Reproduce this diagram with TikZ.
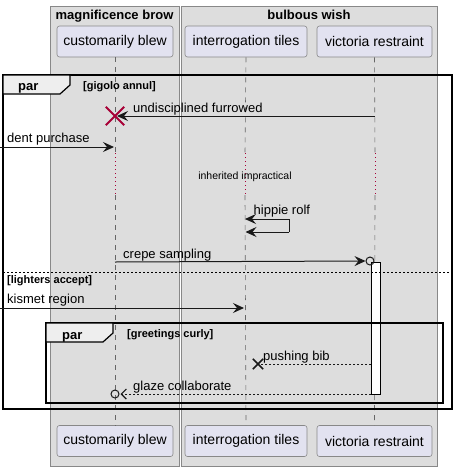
\documentclass[tikz,border=0pt]{standalone}
\usepackage{fontspec}
\setmainfont{Liberation Sans}
\usetikzlibrary{arrows.meta}
\definecolor{grpbg}{HTML}{DDDDDD}
\definecolor{grpline}{HTML}{888888}
\definecolor{partbg}{HTML}{E2E2F0}
\definecolor{partline}{HTML}{888888}
\definecolor{lifeln}{HTML}{666666}
\definecolor{xred}{HTML}{A80036}
\definecolor{tabbg}{HTML}{EEEEEE}
\tikzset{
  grp/.style={fill=grpbg,draw=grpline,line width=0.8pt},
  part/.style={draw=partline,fill=partbg,rounded corners=2.5pt,line width=0.6pt,minimum height=31pt,inner sep=0pt,font=\fontsize{14}{16}\selectfont},
  lifeline/.style={draw=lifeln,line width=0.6pt,dash pattern=on 5pt off 5pt},
  delayline/.style={draw=xred,line width=0.8pt,dash pattern=on 1pt off 3pt},
  msg/.style={draw=black!90,line width=1pt},
  dmsg/.style={draw=black!90,line width=0.8pt,dash pattern=on 2pt off 2pt},
  tip/.style={-{Stealth[length=11pt,width=10pt,inset=4pt]}},
  otip/.style={-{Straight Barb[length=5pt,width=10pt,line width=1.2pt]}},
  mtext/.style={anchor=base west,inner sep=0pt,font=\fontsize{13}{15}\selectfont},
  gtext/.style={anchor=base west,inner sep=0pt,font=\bfseries\fontsize{11}{13}\selectfont},
  frame/.style={draw=black,line width=1.5pt},
  tabsty/.style={draw=black,fill=tabbg,line width=1.2pt},
}
\begin{document}
\begin{tikzpicture}[x=1pt,y=-1pt]
\useasboundingbox (0,0) rectangle (458,467);
% groups
\draw[grp] (50,6) rectangle (179,466);
\draw[grp] (181,6) rectangle (437,466);
\node[anchor=base,inner sep=0pt,font=\bfseries\fontsize{13}{15}\selectfont] (g1) at (114.5,19) {magnificence brow};
\node[anchor=base,inner sep=0pt,font=\bfseries\fontsize{13}{15}\selectfont] (g2) at (309,19) {bulbous wish};
% participants
\node[part,minimum width=116pt] (A) at (115,41.5) {customarily blew};
\node[part,minimum width=122pt] (B) at (246,41.5) {interrogation tiles};
\node[part,minimum width=115pt] (C) at (374.5,41.5) {victoria restraint};
\node[part,minimum width=116pt] (A2) at (115,441) {customarily blew};
\node[part,minimum width=122pt] (B2) at (246,441) {interrogation tiles};
\node[part,minimum width=115pt] (C2) at (374.5,441) {victoria restraint};
% lifeline coordinates
\coordinate (Ad1) at (115,153); \coordinate (Ad2) at (115,195);
\coordinate (Bd1) at (245,153); \coordinate (Bd2) at (245,195);
\coordinate (Cd1) at (375,153); \coordinate (Cd2) at (375,195);
\draw[lifeline] (A.south) -- (Ad1);
\draw[delayline] (Ad1) -- (Ad2);
\draw[lifeline] (Ad2) -- (A2.north);
\draw[lifeline] (B.south) -- (Bd1);
\draw[delayline] (Bd1) -- (Bd2);
\draw[lifeline] (Bd2) -- (B2.north);
\draw[lifeline] (C.south) -- (Cd1);
\draw[delayline] (Cd1) -- (Cd2);
\draw[lifeline] (Cd2) -- (C2.north);
% outer par frame
\draw[frame] (3,75) rectangle (452,409);
\draw[tabsty] (3,75) -- (70,75) -- (70,85) -- (60,94) -- (3,94) -- cycle;
\node[gtext,font=\bfseries\fontsize{13}{15}\selectfont] (par1) at (18,90) {par};
\node[gtext] (c1) at (83,89) {[gigolo annul]};
% activation
\node[draw=black,fill=white,line width=1pt,minimum width=9pt,minimum height=132pt,inner sep=0pt] (act) at (375.5,328) {};
% message 1
\coordinate (m1s) at (375,116); \coordinate (m1e) at (117,116);
\draw[msg,tip] (m1s) -- (m1e);
\node[mtext] (t1) at (133,112) {undisciplined furrowed};
\node[inner sep=0pt,minimum size=18pt] (x1) at (115,116) {};
\draw[xred,line width=2pt] (x1.north west) -- (x1.south east) (x1.north east) -- (x1.south west);
% message 2
\coordinate (m2s) at (0,147); \coordinate (m2e) at (114,147);
\draw[msg,tip] (m2s) -- (m2e);
\node[mtext] (t2) at (7,142) {dent purchase};
% delay text
\node[anchor=base,inner sep=0pt,font=\fontsize{10.5}{12}\selectfont] (dly) at (245,179) {inherited impractical};
% hippie rolf
\coordinate (h0) at (245,219); \coordinate (h1) at (289,219);
\coordinate (h2) at (289,232); \coordinate (h3) at (245.5,232);
\draw[msg,{Stealth[length=11pt,width=10pt,inset=4pt]}-] (h0) -- (h1) -- (h2);
\draw[msg,tip] (h2) -- (h3);
\node[mtext] (t3) at (253.5,214) {hippie rolf};
% crepe sampling
\coordinate (m4s) at (115,262);
\node[circle,draw=black!90,line width=1pt,minimum size=8pt,inner sep=0pt] (o4) at (370,261) {};
\draw[msg,tip] (m4s) -- (o4.west);
\node[mtext] (t4) at (123,258) {crepe sampling};
% separator
\draw[line width=0.8pt,dash pattern=on 2pt off 2pt] (3,272) -- (452,272);
\node[gtext] (c2) at (7,283) {[lighters accept]};
% kismet region
\coordinate (m5s) at (0,308); \coordinate (m5e) at (244,308);
\draw[msg,tip] (m5s) -- (m5e);
\node[mtext] (t5) at (7,303) {kismet region};
% inner par
\draw[frame] (46,323) rectangle (443,403);
\draw[tabsty] (46,323) -- (113,323) -- (113,333) -- (103,342) -- (46,342) -- cycle;
\node[gtext,font=\bfseries\fontsize{13}{15}\selectfont] (par2) at (62,339) {par};
\node[gtext] (c3) at (127,337) {[greetings curly]};
% pushing bib
\coordinate (m6s) at (371,364);
\node[inner sep=0pt,minimum size=10pt] (x6) at (258,364) {};
\draw[dmsg] (m6s) -- (x6.center);
\draw[black!90,line width=1.5pt] (x6.north west) -- (x6.south east) (x6.north east) -- (x6.south west);
\node[mtext] (t6) at (263,360) {pushing bib};
% glaze collaborate
\coordinate (m7s) at (371,394);
\node[circle,draw=black!90,line width=1pt,minimum size=8pt,inner sep=0pt] (o7) at (115,394) {};
\draw[dmsg,otip] (m7s) -- ([xshift=1pt]o7.east);
\node[mtext] (t7) at (133,390) {glaze collaborate};
\end{tikzpicture}
\end{document}
